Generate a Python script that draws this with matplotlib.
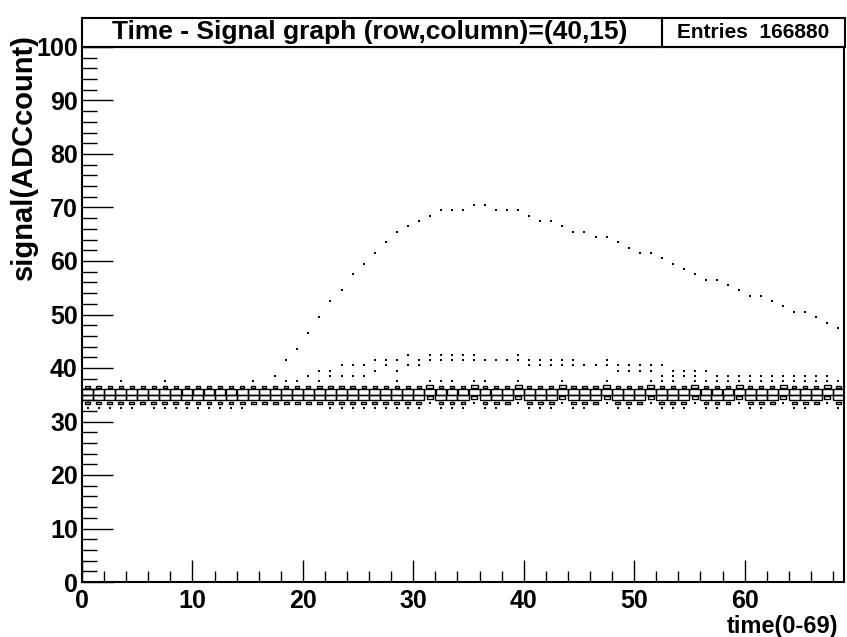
"""
Time - Signal 2D histogram drawn in the ROOT "box" style.
"""

import numpy as np
import matplotlib.pyplot as plt
from matplotlib.patches import Rectangle

plt.rcParams['font.family'] = ['Liberation Sans', 'DejaVu Sans']
plt.rcParams['font.weight'] = 'bold'

# -----------------------------------------------------------------
# data (bin contents)
# -----------------------------------------------------------------
n_time = 69
signal_rows = [32, 33, 34, 35, 36, 37]
normal_profile = [0, 200, 1050, 1000, 150, 0]     # baseline column
shifted_profile = [0, 3, 300, 1050, 420, 3]       # every 4th column from t=31
shifted_cols = [31, 35, 39, 43, 47, 51, 55, 59, 63, 67]

# single counts in bin 32 and bin 37 of the baseline
low_dot_cols = [0, 1, 2, 3, 4, 6, 7, 8, 9, 10, 11, 12, 13, 14,
                22, 23, 24, 25, 26, 27, 28, 29, 30, 32, 33, 34, 36, 37,
                40, 41, 42, 44, 45, 48, 49, 52, 53, 54, 56, 57, 60, 61, 64, 65, 68]
high_dot_cols = [3, 7, 15, 18, 19, 21, 28, 32, 33, 36, 52, 53, 56, 57, 58,
                 60, 61, 62, 64, 65, 66, 68]

# big pulse (one event per time bin)
pulse_t = [17, 18, 19, 20, 21, 22, 23, 24, 25, 26, 27, 28, 29, 30, 31, 32, 33,
           34, 35, 36, 37, 38, 39, 40, 41, 42, 43, 44, 45, 46, 47, 48, 49, 50,
           51, 52, 53, 54, 55, 56, 57, 58, 59, 60, 61, 62, 63, 64, 65, 66, 67, 68]
pulse_sig = [38, 41, 43, 46, 49, 52, 54, 57, 59, 61, 63, 65, 66, 67, 68, 69, 69,
             69, 70, 70, 69, 69, 69, 68, 67, 67, 66, 65, 65, 64, 64, 63, 62, 61,
             61, 60, 59, 58, 57, 56, 56, 55, 54, 53, 53, 52, 51, 50, 50, 49, 48, 47]

# smaller pulses between 37 and 42
side_t = [17, 20, 21, 22, 22, 23, 23, 24, 24, 25, 25, 26, 26, 27, 27, 28, 28,
          29, 29, 30, 30, 31, 31, 32, 32, 33, 33, 34, 34, 35, 35, 36, 37, 38,
          39, 39, 40, 40, 41, 41, 42, 42, 43, 43, 44, 44, 45, 46, 47, 47, 48,
          48, 49, 49, 50, 50, 51, 51, 52, 52, 53, 53, 54, 54, 55, 55, 56, 57,
          58, 59, 60, 61, 62, 63, 64, 65, 66, 67]
side_sig = [38, 38, 39, 39, 38, 40, 38, 40, 38, 40, 38, 41, 39, 41, 40, 41, 39,
            42, 40, 41, 40, 42, 41, 42, 41, 42, 41, 42, 41, 42, 41, 41, 41, 41,
            42, 41, 41, 40, 41, 40, 41, 40, 41, 40, 41, 40, 40, 40, 41, 40, 40,
            39, 40, 39, 40, 39, 40, 39, 40, 38, 39, 38, 39, 38, 39, 38, 39, 38,
            38, 38, 38, 38, 38, 38, 38, 38, 38, 38]

# -----------------------------------------------------------------
# fill the 2D histogram
# -----------------------------------------------------------------
content = np.zeros((n_time, 101))
for t in range(n_time):
    prof = shifted_profile if t in shifted_cols else normal_profile
    for s, c in zip(signal_rows, prof):
        content[t, s] += c
for t in low_dot_cols:
    content[t, 32] += 1
for t in high_dot_cols:
    content[t, 37] += 1
for t, s in zip(pulse_t, pulse_sig):
    content[t, s] += 1
for t, s in zip(side_t, side_sig):
    content[t, s] += 1

cmax = content.max()

# -----------------------------------------------------------------
# plot
# -----------------------------------------------------------------
fig = plt.figure(figsize=(8.47, 6.37), dpi=100)
ax = fig.add_axes([82 / 847, 1 - 582 / 637, (844 - 82) / 847, (582 - 47) / 637])

dot_t, dot_s = [], []
for t in range(n_time):
    for s in range(101):
        c = content[t, s]
        if c <= 0:
            continue
        if c < 10:
            dot_t.append(t + 0.5)
            dot_s.append(s + 0.5)
            continue
        f = np.sqrt(c / cmax)
        ax.add_patch(Rectangle((t + 0.5 - f / 2, s + 0.5 - f / 2), f, f,
                               fill=False, edgecolor="black", lw=1.0))
ax.scatter(dot_t, dot_s, marker="s", s=3.0, color="black", linewidths=0)

ax.set_xlim(0, n_time)
ax.set_ylim(0, 100)
ax.set_xticks(range(0, 70, 10))
ax.set_xticks(range(0, 70, 2), minor=True)
ax.set_yticks(range(0, 101, 10))
ax.set_yticks(range(0, 101, 2), minor=True)
ax.tick_params(which="both", direction="in", top=False, right=False,
               labelsize=18, width=1)
ax.tick_params(axis="x", which="major", length=16, pad=5)
ax.tick_params(axis="x", which="minor", length=8)
ax.tick_params(axis="y", which="major", length=22, pad=3)
ax.tick_params(axis="y", which="minor", length=11)
for sp in ax.spines.values():
    sp.set_linewidth(1.5)

fig.text(838 / 847, 1 - 626 / 637, "time(0-69)", ha="right", va="center",
         fontsize=17, fontweight="bold")
fig.text(24 / 847, 1 - 34 / 637, "signal(ADCcount)", ha="center", va="top",
         rotation=90, fontsize=21, fontweight="bold")

# title box and stats box
top, bot = 1 - 18 / 637, 1 - 47 / 637
fig.patches.append(Rectangle((82 / 847, bot), (662 - 82) / 847, top - bot,
                             transform=fig.transFigure, fill=False,
                             edgecolor="black", lw=1.5))
fig.patches.append(Rectangle((662 / 847, bot), (845 - 662) / 847, top - bot,
                             transform=fig.transFigure, fill=False,
                             edgecolor="black", lw=1.5))
fig.text(370 / 847, (top + bot) / 2, "Time - Signal graph (row,column)=(40,15)",
         ha="center", va="center", fontsize=19, fontweight="bold")
fig.text(753 / 847, (top + bot) / 2, "Entries  166880", ha="center",
         va="center", fontsize=15, fontweight="bold")

plt.savefig("out.png", dpi=100)
